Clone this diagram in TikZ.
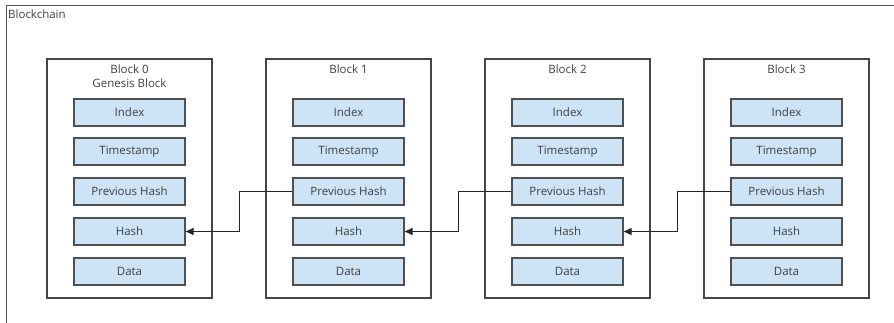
\documentclass[tikz,border=0pt]{standalone}
\usepackage{fontspec}
\setmainfont{Open Sans}
\usetikzlibrary{arrows.meta,calc}
\definecolor{fieldfill}{RGB}{204,228,246}
\definecolor{fieldline}{RGB}{80,80,80}
\definecolor{blockline}{RGB}{70,70,70}
\begin{document}
\begin{tikzpicture}[x=1pt,y=-1pt,
  blockbox/.style={draw=blockline,line width=1.3pt,minimum width=165pt,minimum height=239pt,inner sep=0pt},
  field/.style={draw=fieldline,fill=fieldfill,line width=1.2pt,minimum width=111pt,minimum height=27pt,inner sep=0pt,font=\fontsize{11.5}{13}\selectfont,text=black!75},
  title/.style={font=\fontsize{11.5}{13}\selectfont,text=black!75,inner sep=0pt},
  link/.style={draw=black!85,line width=0.9pt,-{Triangle[length=8pt,width=7pt]}}]
\useasboundingbox (0,0) rectangle (894,322);
\clip (0,0) rectangle (894,322);
\fill[white] (0,0) rectangle (894,322);
\node[draw=black!65,line width=1.3pt,minimum width=900pt,minimum height=330pt,inner sep=0pt,anchor=north west] (frame) at (6,5) {};
\node[title,anchor=west] (lbl) at (8,14) {Blockchain};
\foreach \i in {0,1,2,3}{
  \pgfmathsetmacro{\cx}{129.5+219*\i}
  \node[blockbox] (b\i) at (\cx,178.5) {};
  \node[field] (idx\i) at (\cx,112.5) {Index};
  \node[field] (ts\i) at (\cx,151.5) {Timestamp};
  \node[field] (ph\i) at (\cx,191.5) {Previous Hash};
  \node[field] (h\i) at (\cx,231.5) {Hash};
  \node[field] (d\i) at (\cx,271.5) {Data};
}
\node[title] (t0a) at (129.5,69) {Block 0};
\node[title] (t0b) at (129.5,83) {Genesis Block};
\node[title] (t1) at (348.5,69) {Block 1};
\node[title] (t2) at (567.5,69) {Block 2};
\node[title] (t3) at (786.5,69) {Block 3};
\foreach \a/\b in {0/1,1/2,2/3}{
  \coordinate (m\a) at ($(b\a.east)!0.5!(b\b.west)$);
  \draw[link] (ph\b.west) -- (ph\b.west -| m\a) |- (h\a.east);
}
\end{tikzpicture}
\end{document}
